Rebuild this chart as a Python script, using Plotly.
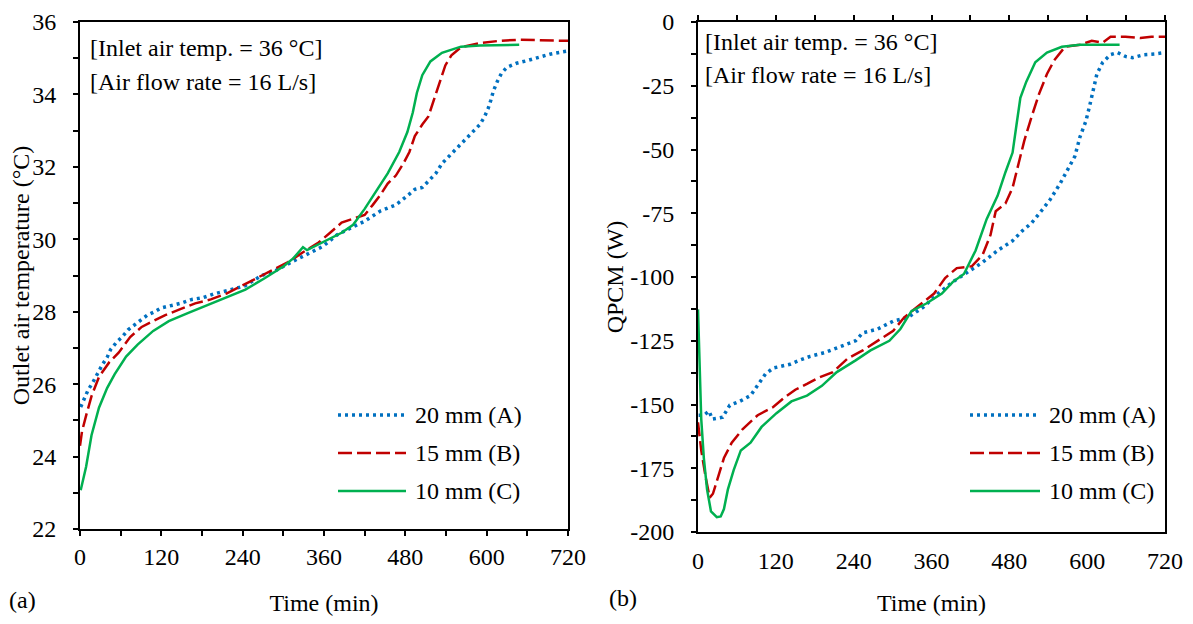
import plotly.graph_objects as go

# ---------------- data: (a) outlet air temperature ----------------
time_A_T = [1, 7, 12, 19, 26, 33, 40, 45, 54, 62, 71, 80, 89, 99, 110, 119, 148, 165, 182, 199, 221, 244,
            267, 290, 312, 335, 358, 380, 403, 420, 443, 466, 483, 494, 505, 517, 525, 534, 545, 556, 568,
            579, 590, 597, 602, 606, 610, 616, 622, 630, 644, 659, 676, 693, 710, 720]
temp_A = [25.37, 25.6, 25.84, 26.05, 26.3, 26.54, 26.74, 26.95, 27.16, 27.3, 27.5, 27.63, 27.76, 27.9, 28.0,
          28.1, 28.23, 28.34, 28.39, 28.5, 28.6, 28.72, 28.99, 29.15, 29.37, 29.59, 29.8, 30.13, 30.35, 30.5,
          30.78, 30.95, 31.2, 31.38, 31.43, 31.65, 31.82, 32.09, 32.3, 32.52, 32.74, 32.96, 33.17, 33.39,
          33.6, 33.83, 34.1, 34.37, 34.59, 34.75, 34.86, 34.93, 35.02, 35.11, 35.17, 35.2]

time_B_T = [0, 3, 9, 17, 28, 43, 57, 74, 91, 108, 125, 148, 170, 193, 216, 239, 261, 284, 307, 329, 352,
            369, 386, 403, 420, 432, 443, 454, 466, 477, 486, 494, 505, 514, 522, 531, 539, 548, 562, 590,
            619, 647, 676, 720]
temp_B = [24.3, 24.7, 25.13, 25.67, 26.2, 26.6, 26.87, 27.3, 27.58, 27.74, 27.9, 28.07, 28.23, 28.34, 28.5,
          28.72, 28.93, 29.15, 29.37, 29.64, 29.91, 30.18, 30.46, 30.57, 30.67, 30.95, 31.22, 31.54, 31.76,
          32.09, 32.41, 32.85, 33.17, 33.39, 33.83, 34.37, 34.8, 35.08, 35.3, 35.42, 35.48, 35.51, 35.5, 35.48]

time_C_T = [1, 9, 17, 28, 40, 51, 68, 85, 108, 131, 159, 187, 216, 244, 273, 301, 315, 329, 335, 352, 369,
            386, 403, 420, 437, 454, 471, 483, 491, 497, 505, 517, 534, 562, 590, 619, 648]
temp_C = [23.07, 23.72, 24.59, 25.35, 25.89, 26.27, 26.76, 27.09, 27.47, 27.74, 27.96, 28.17, 28.39, 28.61,
          28.93, 29.26, 29.48, 29.78, 29.7, 29.86, 30.02, 30.18, 30.4, 30.84, 31.33, 31.82, 32.41, 32.96,
          33.5, 34.04, 34.53, 34.91, 35.15, 35.32, 35.35, 35.37, 35.37]

# ---------------- data: (b) QPCM ----------------
time_A_Q = [1, 9, 17, 22, 29, 38, 49, 64, 81, 92, 104, 116, 127, 142, 156, 173, 196, 220, 243, 254, 277,
            301, 324, 347, 370, 393, 416, 439, 462, 485, 500, 514, 529, 543, 558, 572, 581, 589, 598, 604,
            610, 615, 624, 636, 647, 659, 670, 688, 705, 720]
q_A = [-154.2, -154.2, -152.6, -155.7, -155.4, -155.0, -150.3, -148.8, -146.5, -142.7, -138.0, -135.7,
       -135.0, -134.2, -132.7, -131.1, -129.6, -127.3, -125.0, -121.9, -120.4, -117.3, -115.8, -111.9,
       -106.5, -101.9, -98.1, -94.2, -89.6, -85.8, -81.9, -78.9, -74.2, -69.6, -63.5, -57.3, -52.7, -45.0,
       -38.9, -32.7, -26.6, -20.4, -15.8, -12.8, -12.0, -13.5, -14.0, -12.8, -12.5, -12.0]

time_B_Q = [0, 5, 12, 18, 23, 29, 40, 52, 69, 92, 116, 133, 150, 168, 185, 208, 231, 254, 277, 301, 318,
            341, 364, 381, 399, 422, 439, 451, 459, 474, 485, 494, 503, 514, 526, 538, 549, 566, 589, 607,
            624, 636, 659, 682, 699, 720]
q_B = [-157.0, -168.0, -178.8, -186.5, -185.0, -180.3, -171.0, -165.0, -159.6, -154.2, -151.0, -147.3,
       -144.2, -141.9, -139.6, -137.3, -131.9, -128.8, -125.0, -121.1, -115.8, -111.1, -106.5, -100.4,
       -96.5, -95.8, -91.2, -83.5, -74.2, -71.2, -65.0, -55.8, -46.6, -37.4, -28.1, -20.4, -15.1, -9.7,
       -8.9, -7.4, -8.1, -5.8, -5.8, -6.3, -5.8, -5.8]

time_C_Q = [0, 2, 5, 9, 14, 20, 29, 35, 40, 46, 55, 66, 81, 98, 121, 144, 168, 191, 214, 243, 266, 295,
            312, 329, 352, 376, 393, 410, 428, 445, 462, 474, 485, 491, 497, 506, 520, 538, 561, 589, 618, 650]
q_C = [-112.7, -132.7, -155.7, -171.0, -183.4, -191.9, -194.2, -193.9, -191.0, -183.4, -175.7, -168.0,
       -165.0, -158.8, -153.4, -148.8, -146.5, -142.7, -137.3, -132.7, -128.8, -125.0, -120.4, -113.4,
       -110.4, -106.5, -101.9, -98.8, -89.6, -77.3, -68.1, -58.9, -51.2, -40.4, -29.7, -23.5, -15.8,
       -12.0, -9.7, -8.9, -8.9, -8.9]

series_names = ["20 mm (A)", "15 mm (B)", "10 mm (C)"]
x_ticks = [0, 120, 240, 360, 480, 600, 720]
q_ticks = [0, -25, -50, -75, -100, -125, -150, -175, -200]
q_tick_text = ["0", "-25", "-50", "-75", "-100", "-125", "-150", "-175", "-200"]

# ---------------- styling ----------------
PAGE_PAD = 8                      # default body margin of the html page
W, H = 1193 - 2 * PAGE_PAD, 624 - 2 * PAGE_PAD
FONT = "Liberation Serif, Times New Roman, serif"
FS = 24
colors = ["#0070C0", "#C00000", "#00B050"]
line_styles = [dict(color=colors[0], width=3.5, dash="3px,4px"),
               dict(color=colors[1], width=2.5, dash="14px,5px"),
               dict(color=colors[2], width=2.5)]


def px(x):
    return (x - PAGE_PAD) / W


def py(y):
    return 1 - (y - PAGE_PAD) / H


fig = go.Figure()

for tx, ty, name, ls in zip([time_A_T, time_B_T, time_C_T], [temp_A, temp_B, temp_C], series_names, line_styles):
    fig.add_trace(go.Scatter(x=tx, y=ty, mode="lines", name=name, line=ls, xaxis="x", yaxis="y",
                             showlegend=False))
for tx, ty, name, ls in zip([time_A_Q, time_B_Q, time_C_Q], [q_A, q_B, q_C], series_names, line_styles):
    fig.add_trace(go.Scatter(x=tx, y=ty, mode="lines", name=name, line=ls, xaxis="x2", yaxis="y2",
                             showlegend=False))
# helper trace for the top tick axis of panel (b)
fig.add_trace(go.Scatter(x=[None], y=[None], xaxis="x3", yaxis="y2", showlegend=False, hoverinfo="skip"))

tick_font = dict(family=FONT, size=FS, color="black")
common_axis = dict(showgrid=False, zeroline=False, showline=True, linecolor="black", linewidth=2,
                   tickcolor="black", tickwidth=1.5, ticklen=5, tickfont=tick_font, mirror=True,
                   automargin=False, ticklabeloverflow="allow")
minor_style = dict(ticks="outside", ticklen=5, tickcolor="black", tickwidth=1.5)
title_font = dict(family=FONT, size=FS, color="black")

TOP = 22

fig.update_layout(
    width=W, height=H,
    margin=dict(l=0, r=0, t=0, b=0),
    paper_bgcolor="white", plot_bgcolor="white",
    font=dict(family=FONT, size=FS, color="black"),
    xaxis=dict(common_axis, domain=[px(80), px(568)], anchor="y", range=[0, 720],
               tickvals=x_ticks, ticks="outside", ticklabelstandoff=0,
               minor=dict(minor_style, dtick=60),
               title=dict(text="Time (min)", font=title_font, standoff=32)),
    yaxis=dict(common_axis, domain=[py(529), py(TOP)], anchor="x", range=[22, 36], dtick=2, ticks="outside",
               ticklabelstandoff=12,
               minor=dict(minor_style, dtick=1),
               title=dict(text="Outlet air temperature (°C)", font=title_font, standoff=3)),
    xaxis2=dict(common_axis, domain=[px(698), px(1165)], anchor="y2", range=[0, 720],
                tickvals=x_ticks, ticks="", ticklabelstandoff=6,
                title=dict(text="Time (min)", font=title_font, standoff=28)),
    xaxis3=dict(common_axis, overlaying="x2", anchor="y2", side="top", range=[0, 720],
                tickvals=x_ticks, ticks="outside", showticklabels=False, mirror=False,
                minor=dict(minor_style, dtick=60)),
    yaxis2=dict(common_axis, domain=[py(532), py(TOP)], anchor="x2", range=[-200, 0],
                tickvals=q_ticks, ticktext=q_tick_text, ticks="outside",
                ticklabelstandoff=12,
                minor=dict(minor_style, dtick=12.5),
                title=dict(text="QPCM (W)", font=title_font, standoff=0)),
)

annotations = []
shapes = []
# condition notes
for x0, ys in [(88, (48, 82)), (703, (42, 75))]:
    for txt, yy in zip(["[Inlet air temp. = 36 °C]", "[Air flow rate = 16 L/s]"], ys):
        annotations.append(dict(x=px(x0), y=py(yy), xref="paper", yref="paper", text=txt, showarrow=False,
                                xanchor="left", yanchor="middle", font=title_font))
# panel labels
annotations.append(dict(x=px(7), y=py(600), xref="paper", yref="paper", text="(a)", showarrow=False,
                        xanchor="left", yanchor="middle", font=title_font))
annotations.append(dict(x=px(607), y=py(598), xref="paper", yref="paper", text="(b)", showarrow=False,
                        xanchor="left", yanchor="middle", font=title_font))
# legends drawn per panel
for (lx0, lx1, tx, rows) in [(338, 406, 413, (415, 453, 491)), (970, 1040, 1047, (415, 453, 491))]:
    for name, ls, yy in zip(series_names, line_styles, rows):
        shapes.append(dict(type="line", xref="paper", yref="paper", x0=px(lx0), x1=px(lx1), y0=py(yy), y1=py(yy),
                           line=ls))
        annotations.append(dict(x=px(tx), y=py(yy), xref="paper", yref="paper", text=name, showarrow=False,
                                xanchor="left", yanchor="middle", font=title_font))

fig.update_layout(annotations=annotations, shapes=shapes)
fig.write_html("out.html")
